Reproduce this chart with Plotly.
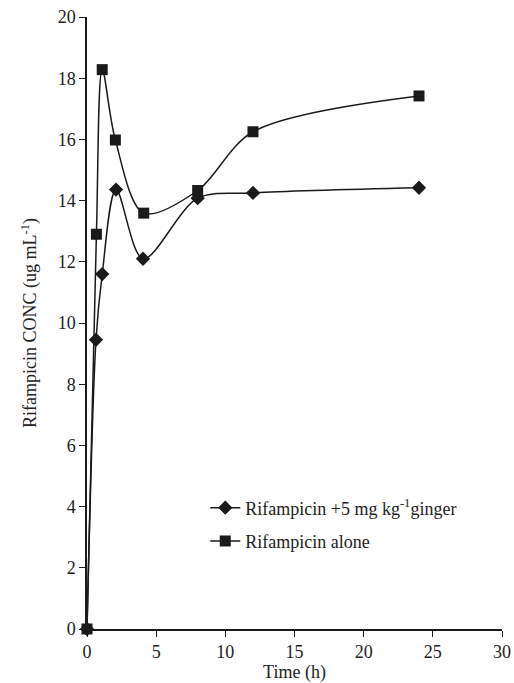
import plotly.graph_objects as go

time_ginger = [0, 0.65, 1.1, 2.1, 4.05, 8, 12, 24]
conc_ginger = [0, 9.45, 11.6, 14.36, 12.1, 14.08, 14.25, 14.42]
time_alone = [0, 0.68, 1.1, 2.05, 4.1, 8, 12, 24]
conc_alone = [0, 12.9, 18.28, 15.98, 13.59, 14.33, 16.25, 17.42]

name_ginger = "Rifampicin +5 mg kg<sup>-1</sup>ginger"
name_alone = "Rifampicin alone"

xticks = [0, 5, 10, 15, 20, 25, 30]
yticks = [0, 2, 4, 6, 8, 10, 12, 14, 16, 18, 20]

FONT = "Liberation Serif, Times New Roman, serif"
INK = "#1a1a1a"
TXT = "#222"

fig = go.Figure()
fig.add_trace(go.Scatter(
    x=time_ginger, y=conc_ginger, name=name_ginger, mode="lines+markers",
    legendgroup="g1",
    line=dict(color=INK, width=1.5, shape="spline", smoothing=0.9),
    marker=dict(symbol="diamond", size=11, color=INK),
    cliponaxis=False,
))
fig.add_trace(go.Scatter(
    x=time_alone, y=conc_alone, name=name_alone, mode="lines+markers",
    legendgroup="g2",
    line=dict(color=INK, width=1.5, shape="spline", smoothing=0.9),
    marker=dict(symbol="square", size=11, color=INK),
    cliponaxis=False,
))

fig.update_layout(
    width=514, height=683,
    margin=dict(l=87, r=12, t=17, b=54),
    paper_bgcolor="white", plot_bgcolor="white",
    font=dict(family=FONT, size=18, color=TXT),
    showlegend=True,
    legend=dict(x=0.285, y=0.228, xanchor="left", yanchor="top",
                bgcolor="rgba(0,0,0,0)",
                font=dict(family=FONT, size=18, color=TXT),
                itemwidth=30, tracegroupgap=7),
    xaxis=dict(range=[0, 30], tickvals=xticks, ticks="outside", ticklen=6,
               tickwidth=1.2, tickcolor=INK, showline=True, linecolor=INK,
               linewidth=1.5, showgrid=False, zeroline=False, automargin=False,
               ticklabeloverflow="allow",
               title=dict(text="Time (h)", standoff=4,
                          font=dict(family=FONT, size=18, color=TXT)),
               tickfont=dict(family=FONT, size=18, color=TXT)),
    yaxis=dict(range=[0, 20], tickvals=yticks, ticks="outside", ticklen=6,
               tickwidth=1.2, tickcolor=INK, showline=True, linecolor=INK,
               linewidth=1.5, showgrid=False, zeroline=False, automargin=False,
               ticklabeloverflow="allow",
               title=dict(text="Rifampicin CONC (ug mL<sup>-1</sup>)", standoff=16,
                          font=dict(family=FONT, size=18, color=TXT)),
               tickfont=dict(family=FONT, size=18, color=TXT)),
)

# remove the browser's default 8px body margin so the figure fills the window
fig.write_html("out.html",
               config={"displayModeBar": False},
               post_script="document.body.style.margin='0';document.body.style.overflow='hidden';")
